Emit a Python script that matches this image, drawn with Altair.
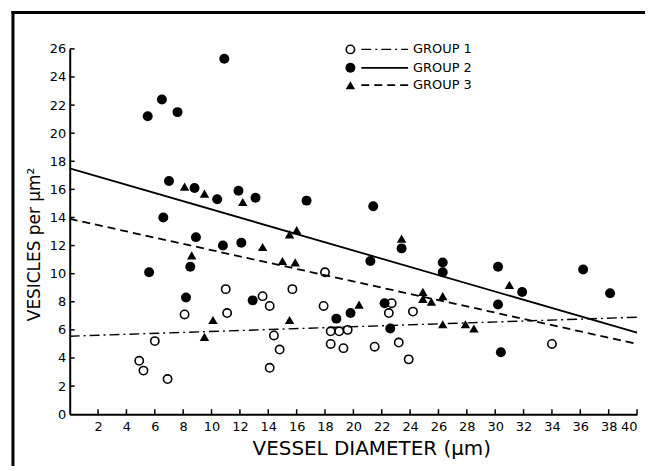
import altair as alt
import pandas as pd

# ---- data ----
g1_x = [4.9, 5.2, 6.0, 6.9, 8.1, 11.0, 11.1, 13.6, 14.1, 14.4, 14.8, 14.1, 15.7, 18.0,
        17.9, 18.4, 19.0, 19.6, 18.4, 19.3, 21.5, 22.7, 22.5, 23.2, 23.9, 24.2, 34.0]
g1_y = [3.8, 3.1, 5.2, 2.5, 7.1, 8.9, 7.2, 8.4, 7.7, 5.6, 4.6, 3.3, 8.9, 10.1,
        7.7, 5.9, 5.9, 6.0, 5.0, 4.7, 4.8, 7.9, 7.2, 5.1, 3.9, 7.3, 5.0]

g2_x = [5.5, 6.5, 7.6, 10.9, 5.6, 6.6, 7.0, 8.2, 8.5, 8.8, 8.9, 10.4, 10.8, 11.9, 12.1,
        12.9, 13.1, 16.7, 18.8, 19.8, 21.2, 21.4, 22.2, 22.6, 23.4, 26.3, 26.3, 30.2,
        30.2, 30.4, 31.9, 36.2, 38.1]
g2_y = [21.2, 22.4, 21.5, 25.3, 10.1, 14.0, 16.6, 8.3, 10.5, 16.1, 12.6, 15.3, 12.0, 15.9, 12.2,
        8.1, 15.4, 15.2, 6.8, 7.2, 10.9, 14.8, 7.9, 6.1, 11.8, 10.8, 10.1, 10.5,
        7.8, 4.4, 8.7, 10.3, 8.6]

g3_x = [8.1, 9.5, 12.2, 8.6, 10.1, 9.5, 13.6, 15.5, 16.0, 15.0, 15.9, 15.5, 20.4, 23.4,
        24.9, 24.9, 25.5, 26.3, 26.3, 27.9, 28.5, 31.0]
g3_y = [16.2, 15.7, 15.1, 11.3, 6.7, 5.5, 11.9, 12.8, 13.1, 10.9, 10.8, 6.7, 7.8, 12.5,
        8.7, 8.2, 8.0, 8.4, 6.4, 6.4, 6.1, 9.2]

fit_x = [0, 40]
g1_fit = [5.55, 6.9]
g2_fit = [17.5, 5.8]
g3_fit = [13.9, 5.0]

legend_labels = ["GROUP 1", "GROUP 2", "GROUP 3"]
x_ticks = list(range(2, 41, 2))
y_ticks = list(range(0, 27, 2))

# ---- styling ----
W, H = 570, 367
FONT = "DejaVu Sans"
dash1 = [10, 4, 2, 4]
dash3 = [8, 5]

xs = alt.Scale(domain=[0, 40], nice=False, zero=False)
ys = alt.Scale(domain=[0, 26], nice=False)

xaxis = alt.Axis(values=x_ticks, ticks=False, grid=False, domainColor="black", domainWidth=2,
                 labelFont=FONT, labelFontSize=13, labelColor="black", labelPadding=6,
                 title="VESSEL DIAMETER (μm)", titleFont=FONT, titleFontSize=20,
                 titleFontWeight="normal", titleColor="black", titleX=303, titleY=35,
                 titleBaseline="middle", titleAlign="center")
yaxis = alt.Axis(values=y_ticks, ticks=False, grid=False, domainColor="black", domainWidth=2,
                 labelFont=FONT, labelFontSize=13, labelColor="black", labelPadding=4,
                 title="VESICLES per μm²", titleFont=FONT, titleFontSize=17,
                 titleFontWeight="normal", titleColor="black", titleAngle=270,
                 titleX=-35, titleY=196, titleBaseline="middle", titleAlign="center")

X = alt.X("x:Q", scale=xs, axis=xaxis)
Y = alt.Y("y:Q", scale=ys, axis=yaxis)

df1 = pd.DataFrame({"x": g1_x, "y": g1_y})
df2 = pd.DataFrame({"x": g2_x, "y": g2_y})
df3 = pd.DataFrame({"x": g3_x, "y": g3_y})

p1 = alt.Chart(df1).mark_point(shape="circle", filled=False, color="black", size=70,
                               strokeWidth=1.6, opacity=1).encode(x=X, y=Y)
p2 = alt.Chart(df2).mark_point(shape="circle", filled=True, color="black", size=100,
                               opacity=1).encode(x=X, y=Y)
p3 = alt.Chart(df3).mark_point(shape="triangle-up", filled=True, color="black", size=90,
                               opacity=1).encode(x=X, y=Y)

def fit_line(vals, dash, width):
    d = pd.DataFrame({"x": fit_x, "y": vals})
    kw = dict(color="black", strokeWidth=width)
    if dash:
        kw["strokeDash"] = dash
    return alt.Chart(d).mark_line(**kw).encode(x=X, y=Y)

l1 = fit_line(g1_fit, dash1, 1.4)
l2 = fit_line(g2_fit, None, 1.8)
l3 = fit_line(g3_fit, dash3, 1.8)

# inside tick marks
ytk = alt.Chart(pd.DataFrame({"y": y_ticks[1:]})).mark_rule(color="black", strokeWidth=1.5).encode(
    y=Y, x=alt.value(0), x2=alt.value(5))
xtk = alt.Chart(pd.DataFrame({"x": x_ticks})).mark_rule(color="black", strokeWidth=1.5).encode(
    x=X, y=alt.value(H), y2=alt.value(H - 5))

# outer frame (left and top edges of the scanned page)
one = pd.DataFrame({"k": [0]})
frame_left = alt.Chart(one).mark_rule(color="black", strokeWidth=3).encode(
    x=alt.value(-57), y=alt.value(-38), y2=alt.value(H + 80))
frame_top = alt.Chart(one).mark_rule(color="black", strokeWidth=3).encode(
    x=alt.value(-58.5), x2=alt.value(W + 40), y=alt.value(-36.5))

# custom legend
rows = [0.5, 19, 36.5]
sym_x, line_x0, line_x1, text_x = 282, 293, 340, 345
leg = []
shapes = [("circle", False, 70), ("circle", True, 100), ("triangle-up", True, 90)]
dashes = [(dash1, 1.4), (None, 1.8), (dash3, 1.8)]
for i, lab in enumerate(legend_labels):
    d = pd.DataFrame({"label": [lab]})
    shp, fil, sz = shapes[i]
    leg.append(alt.Chart(d).mark_point(shape=shp, filled=fil, color="black", size=sz,
                                       strokeWidth=1.6, opacity=1).encode(
        x=alt.value(sym_x), y=alt.value(rows[i])))
    dsh, wd = dashes[i]
    kw = dict(color="black", strokeWidth=wd)
    if dsh:
        kw["strokeDash"] = dsh
    leg.append(alt.Chart(d).mark_rule(**kw).encode(
        x=alt.value(line_x0), x2=alt.value(line_x1), y=alt.value(rows[i])))
    leg.append(alt.Chart(d).mark_text(align="left", baseline="middle", font=FONT,
                                      fontSize=13, color="black").encode(
        x=alt.value(text_x), y=alt.value(rows[i]), text="label:N"))

chart = alt.layer(p1, l1, l2, l3, p2, p3, ytk, xtk, frame_left, frame_top, *leg).properties(
    width=W, height=H,
    autosize=alt.AutoSizeParams(type="none"),
    padding={"left": 62, "top": 40, "right": 8, "bottom": 51},
    background="white",
).configure_view(stroke=None)

chart.save("out.html", embed_options={"renderer": "svg", "actions": False})
